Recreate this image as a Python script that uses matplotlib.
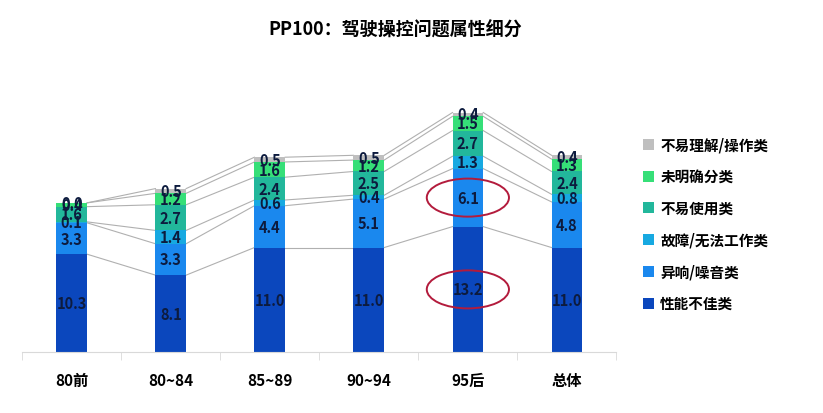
import numpy as np
import matplotlib.pyplot as plt
from matplotlib.patches import Ellipse

plt.rcParams['font.family'] = ['Noto Sans CJK SC', 'DejaVu Sans']

groups = ['80前', '80~84', '85~89', '90~94', '95后', '总体']
series = ['性能不佳类', '异响/噪音类', '故障/无法工作类', '不易使用类', '未明确分类', '不易理解/操作类']
perf = [10.3, 8.1, 11.0, 11.0, 13.2, 11.0]
noise = [3.3, 3.3, 4.4, 5.1, 6.1, 4.8]
fault = [0.1, 1.4, 0.6, 0.4, 1.3, 0.8]
hard_use = [1.6, 2.7, 2.4, 2.5, 2.7, 2.4]
unclear = [0.4, 1.2, 1.6, 1.2, 1.5, 1.3]
hard_understand = [0.0, 0.5, 0.5, 0.5, 0.4, 0.4]
colors = ['#0b47bd', '#1a88ee', '#17a9e1', '#22b79b', '#36df78', '#bfbfbf']

data = np.array([perf, noise, fault, hard_use, unclear, hard_understand])
x = np.arange(len(groups))
w = 0.31

fig = plt.figure(figsize=(8.23, 4.14), dpi=100)
ax = fig.add_axes([0.027, 0.147, 0.722, 0.65])

bottom = np.zeros(len(groups))
for vals, name, c in zip(data, series, colors):
    ax.bar(x, vals, w, bottom=bottom, color=c, label=name, zorder=2)
    for xi, b, v in zip(x, bottom, vals):
        ax.text(xi, b + v / 2, f'{v:.1f}', ha='center', va='center',
                fontsize=10.5, fontweight='bold', color='#0d1b3e', zorder=4)
    bottom = bottom + vals

# connecting lines between bars
cum = np.cumsum(data, axis=0)
for level in cum:
    for i in range(len(groups) - 1):
        ax.plot([x[i] + w / 2, x[i + 1] - w / 2], [level[i], level[i + 1]],
                color='#b0b0b0', lw=0.8, zorder=1)

# red ellipses on 95后
for yc in [perf[4] + noise[4] / 2, perf[4] / 2]:
    ax.add_patch(Ellipse((x[4], yc), 0.83, 4.0, fill=False,
                         edgecolor='#b31b3c', lw=1.4, zorder=5))

ax.set_xlim(-0.5, len(groups) - 0.5)
ax.set_ylim(0, 28.3)
ax.set_yticks([])
for s in ['top', 'right', 'left']:
    ax.spines[s].set_visible(False)
ax.spines['bottom'].set_color('#d9d9d9')
ax.set_xticks(x)
ax.set_xticklabels(groups, fontsize=11, fontweight='bold')
ax.tick_params(axis='x', length=0, pad=14)
ax.set_xticks(np.arange(-0.5, len(groups)), minor=True)
ax.tick_params(axis='x', which='minor', length=6, color='#d9d9d9')

handles, labels = ax.get_legend_handles_labels()
fig.legend(handles[::-1], labels[::-1], loc='center left',
           bbox_to_anchor=(0.765, 0.457), frameon=False,
           prop={'weight': 'bold', 'size': 10.5}, handlelength=0.8,
           handleheight=0.8, handletextpad=0.4, labelspacing=1.08)

fig.suptitle('PP100：驾驶操控问题属性细分', x=0.48, y=0.95,
             fontsize=13, fontweight='bold')

fig.savefig('out.png', dpi=100)
